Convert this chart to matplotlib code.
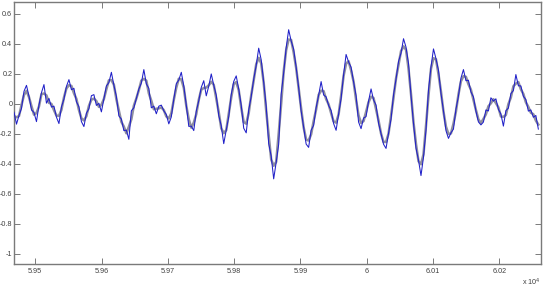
import numpy as np
import matplotlib
matplotlib.use("Agg")
import matplotlib.pyplot as plt

# sample positions (first / last sample) and the noisy signal
t_first, t_last = 59468, 60259
signal = [
    -0.055, -0.135, -0.077, -0.03, 0.084, 0.124, 0.052, -0.04, -0.057, -0.118,
    -0.008, 0.075, 0.129, 0.005, 0.037, -0.021, -0.015, -0.088, -0.131, -0.02,
    0.032, 0.117, 0.162, 0.095, 0.104, 0.015, -0.019, -0.118, -0.151, -0.062,
    -0.032, 0.055, 0.062, -0.01, 0.004, -0.053, 0.032, 0.12, 0.142, 0.211,
    0.125, 0.05, -0.08, -0.101, -0.178, -0.175, -0.236, -0.046, -0.026, 0.037,
    0.099, 0.139, 0.229, 0.134, 0.104, -0.026, -0.015, -0.066, -0.015, -0.008,
    -0.046, -0.071, -0.133, -0.087, 0.032, 0.135, 0.159, 0.211, 0.12, -0.008,
    -0.15, -0.148, -0.178, -0.048, 0.021, 0.11, 0.155, 0.054, 0.119, 0.20,
    0.125, 0.058, -0.077, -0.146, -0.265, -0.175, -0.085, 0.062, 0.15, 0.187,
    0.099, -0.009, -0.162, -0.193, -0.041, 0.049, 0.165, 0.257, 0.372, 0.295,
    0.145, -0.015, -0.265, -0.348, -0.50, -0.39, -0.27, 0.065, 0.207, 0.375,
    0.495, 0.42, 0.365, 0.245, 0.11, -0.047, -0.155, -0.268, -0.29, -0.176,
    -0.143, -0.025, 0.057, 0.149, 0.06, 0.047, -0.01, -0.044, -0.131, -0.176,
    -0.068, 0.035, 0.195, 0.33, 0.28, 0.245, 0.147, 0.055, -0.121, -0.165,
    -0.094, -0.085, 0.019, 0.10, 0.027, -0.008, -0.128, -0.197, -0.269, -0.297,
    -0.196, -0.102, 0.061, 0.165, 0.283, 0.339, 0.435, 0.379, 0.27, 0.057,
    -0.131, -0.295, -0.375, -0.478, -0.355, -0.175, 0.092, 0.246, 0.367, 0.302,
    0.225, 0.071, -0.046, -0.178, -0.23, -0.193, -0.168, -0.035, 0.052, 0.172,
    0.229, 0.155, 0.158, 0.08, 0.047, -0.048, -0.12, -0.14, -0.121, -0.04,
    -0.047, 0.041, 0.019, 0.034, -0.036, -0.067, -0.148, -0.045, -0.028, 0.069,
    0.089, 0.196, 0.121, 0.12, 0.051, 0.029, -0.048, -0.04, -0.089, -0.077,
    -0.168,
]
x_ticks = [59500, 59600, 59700, 59800, 59900, 60000, 60100, 60200]
y_ticks = [-1, -0.8, -0.6, -0.4, -0.2, 0, 0.2, 0.4, 0.6]

y = np.array(signal)
t = np.linspace(t_first, t_last, len(y))
# running mean for the lighter trace
smooth = np.convolve(np.pad(y, 1, mode="edge"), np.ones(3) / 3, mode="valid")

plt.rcParams["font.family"] = ["Liberation Sans", "DejaVu Sans"]
fig = plt.figure(figsize=(5.44, 2.89), dpi=100)
ax = fig.add_axes([14 / 544, 24.7 / 289, 527 / 544, 262.3 / 289])

ax.plot(t, smooth, color="#8f8f9f", lw=1.8, zorder=2)
ax.plot(t, y, color="#2020c8", lw=0.75, zorder=3)

ax.set_xlim(59468, 60263)
ax.set_ylim(-1.07, 0.68)
ax.set_xticks(x_ticks)
ax.set_xticklabels([f"{v / 1e4:g}" for v in x_ticks])
ax.set_yticks(y_ticks)
ax.set_yticklabels([f"{v:g}" for v in y_ticks])
ax.tick_params(direction="in", length=4, width=0.7, color="#7a7a7a",
               labelsize=5.2, labelcolor="#404040", top=True, right=True)
ax.tick_params(axis="y", pad=1.2)
ax.tick_params(axis="x", pad=2.5)
for s in ax.spines.values():
    s.set_color("#7a7a7a")
    s.set_linewidth(1.0)

fig.text(541 / 544, 1 - 286 / 289, "x 10$^4$", fontsize=5.2, color="#404040",
         ha="right", va="baseline")

fig.savefig("out.png", dpi=100, facecolor="white")
